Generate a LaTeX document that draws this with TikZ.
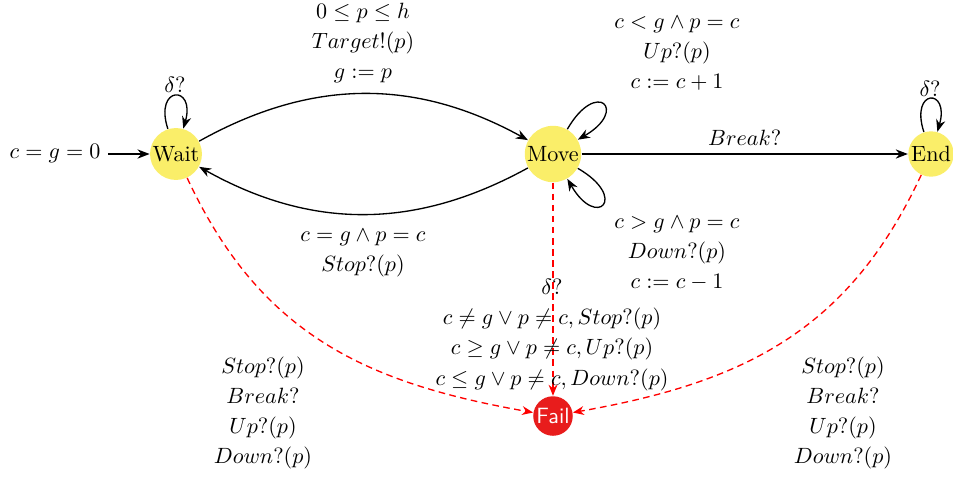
\documentclass[tikz,border=0pt]{standalone}
\usepackage{amsmath}
\usetikzlibrary{arrows.meta}
\definecolor{stateyellow}{RGB}{250,238,105}
\definecolor{failred}{RGB}{232,28,28}
\begin{document}
\begin{tikzpicture}[x=0.4525pt,y=0.4525pt,
  state/.style={circle,fill=stateyellow,inner sep=0.5pt},
  failstate/.style={circle,fill=failred,text=white,font=\sffamily,inner sep=0.5pt},
  arr/.style={semithick,-{Stealth[length=5.5pt,width=4.2pt]}},
  farr/.style={semithick,red,dash pattern=on 3pt off 2pt,-{Stealth[length=5pt,width=4pt]}},
  lbl/.style={align=center},
  sloop/.style={arr,loop,min distance=7.3mm},
  mloop/.style={arr,loop,min distance=9.4mm}]
\useasboundingbox (0,0) rectangle (953,-477);
\node[state] (wait) at (176,-154) {Wait};
\node[state] (move) at (553,-154) {Move};
\node[state] (end) at (931,-154) {End};
\node[failstate] (fail) at (553,-416) {Fail};
\node (init) at (55,-154) {$c=g=0$};
\draw[arr] (init) -- (wait);
\draw[sloop,out=108,in=74] (wait) to node[above,inner sep=1pt] {$\delta?$} (wait);
\draw[sloop,out=108,in=74] (end) to node[above,inner sep=1pt] {$\delta?$} (end);
\draw[mloop,out=60,in=30] (move) to (move);
\draw[mloop,out=-30,in=-60] (move) to (move);
\draw[arr] (wait) to[bend left=29] (move);
\draw[arr] (move) to[bend left=29] (wait);
\draw[arr] (move) -- node[above] {$Break?$} (end);
\draw[farr] (wait) to[out=-65,in=170,looseness=1.05] (fail);
\draw[farr] (end) to[out=-115,in=10,looseness=1.05] (fail);
\draw[farr] (move) -- (fail);
\node[lbl] (lwm) at (363,-43) {$0\leq p\leq h$\\[1.6pt] $Target!(p)$\\[1.6pt] $g:=p$};
\node[lbl] (lmw) at (363,-253) {$c=g\wedge p=c$\\[1.6pt] $Stop?(p)$};
\node[lbl] (lup) at (677,-53) {$c<g\wedge p=c$\\[1.6pt] $Up?(p)$\\[1.6pt] $c:=c+1$};
\node[lbl] (ldown) at (677,-253) {$c>g\wedge p=c$\\[1.6pt] $Down?(p)$\\[1.6pt] $c:=c-1$};
\node[lbl] (lmf) at (552,-335) {$\delta?$\\[1.6pt] $c\neq g\vee p\neq c, Stop?(p)$\\[1.6pt] $c\geq g\vee p\neq c, Up?(p)$\\[1.6pt] $c\leq g\vee p\neq c, Down?(p)$};
\node[lbl] (lwf) at (263,-413) {$Stop?(p)$\\[1.6pt] $Break?$\\[1.6pt] $Up?(p)$\\[1.6pt] $Down?(p)$};
\node[lbl] (lef) at (843,-413) {$Stop?(p)$\\[1.6pt] $Break?$\\[1.6pt] $Up?(p)$\\[1.6pt] $Down?(p)$};
\end{tikzpicture}
\end{document}
